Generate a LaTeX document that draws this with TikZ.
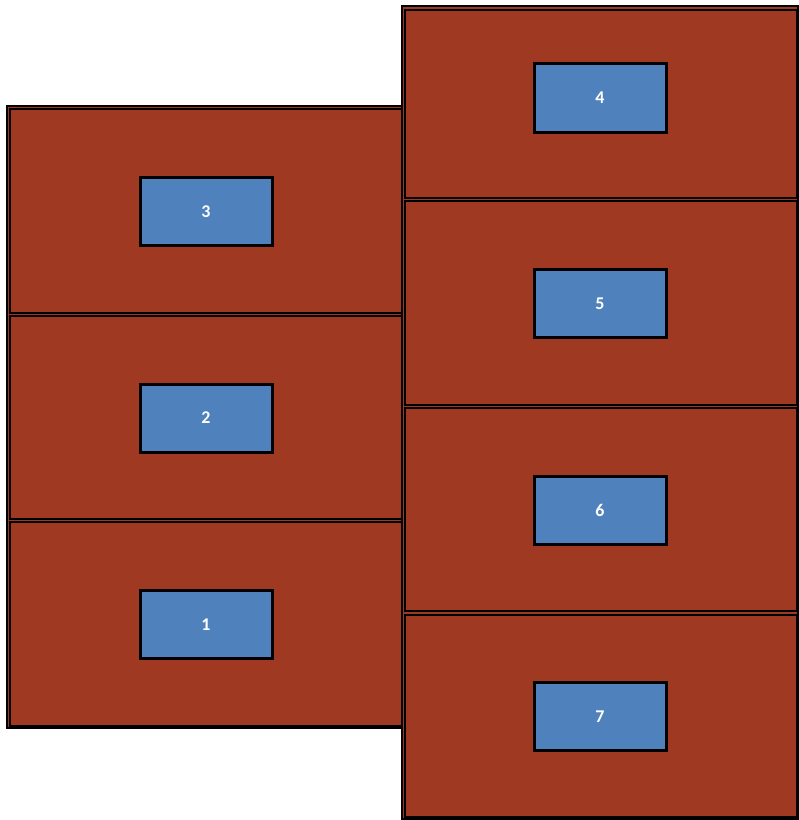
\documentclass[tikz,border=0pt]{standalone}
\usepackage{fontspec}
\setmainfont{Carlito}
\definecolor{brick}{RGB}{160,57,33}
\definecolor{boxblue}{RGB}{79,129,189}
\begin{document}
\begin{tikzpicture}[x=1bp,y=-1bp,
  outerbox/.style={draw=black,fill=brick,line width=2.5bp,inner sep=0pt,outer sep=0pt,rectangle},
  slab/.style={draw=black,fill=brick,line width=2bp,inner sep=0pt,outer sep=0pt,rectangle,minimum width=391.5bp},
  tag/.style={draw=black,fill=boxblue,line width=3bp,inner sep=0pt,outer sep=0pt,rectangle,minimum width=132bp,minimum height=68bp,text=white,font=\fontsize{18}{20}\selectfont\bfseries}]
\useasboundingbox (0,0) rectangle (799,820);
% group frames
\node[outerbox,minimum width=396.5bp,minimum height=622bp] (leftgroup) at (205.25,417) {};
\node[outerbox,minimum width=396bp,minimum height=813bp] (rightgroup) at (600,412.5) {};
% left slabs
\node[slab,minimum height=204bp] (s3) at (205.75,211) {};
\node[slab,minimum height=203bp] (s2) at (205.75,417.5) {};
\node[slab,minimum height=204bp] (s1) at (205.75,624) {};
% right slabs
\node[slab,minimum height=188bp] (s4) at (600.75,104) {};
\node[slab,minimum height=204bp] (s5) at (600.75,303) {};
\node[slab,minimum height=203bp] (s6) at (600.75,509.5) {};
\node[slab,minimum height=202bp] (s7) at (600.75,716) {};
% labels
\node[tag] (t3) at (206,211.5) {3};
\node[tag] (t2) at (206,418) {2};
\node[tag] (t1) at (206,624.5) {1};
\node[tag] (t4) at (600,98) {4};
\node[tag] (t5) at (600,303.5) {5};
\node[tag] (t6) at (600,510) {6};
\node[tag] (t7) at (600,716.5) {7};
\end{tikzpicture}
\end{document}
